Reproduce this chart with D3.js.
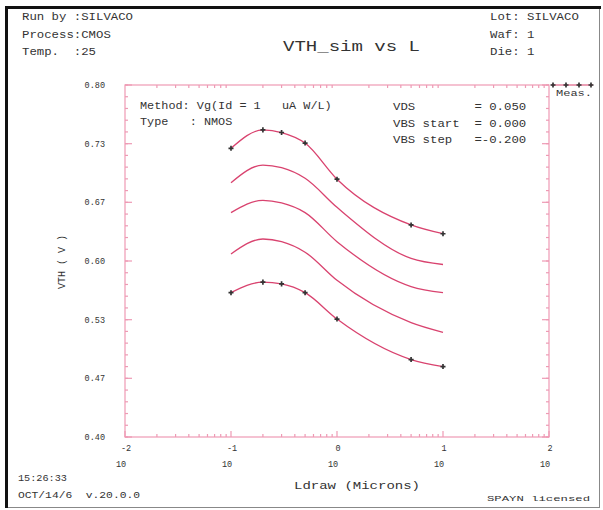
<!DOCTYPE html>
<html>
<head>
<meta charset="utf-8">
<script src="https://cdn.jsdelivr.net/npm/d3@7"></script>
<style>
  body { margin: 0; background: #fff; }
  svg text { white-space: pre; font-family: "Liberation Mono", "DejaVu Sans Mono", monospace; fill: #333; }
</style>
</head>
<body>
<div id="chart"></div>
<script>
// channel length (microns), one point per measured device
var lengths = [0.1, 0.2, 0.3, 0.5, 1, 5, 10];

// simulated VTH, one curve per VBS step (0, -0.2, -0.4, -0.6, -0.8)
var simVth = [
    [0.728, 0.749, 0.746, 0.734, 0.693, 0.641, 0.631],
    [0.689, 0.709, 0.706, 0.694, 0.661, 0.603, 0.596],
    [0.655, 0.669, 0.666, 0.655, 0.622, 0.571, 0.564],
    [0.608, 0.625, 0.622, 0.610, 0.578, 0.530, 0.519],
    [0.564, 0.576, 0.574, 0.564, 0.534, 0.488, 0.480]
];

// measured VTH (only first and last VBS)
var measTop = [0.728, 0.749, 0.746, 0.734, 0.693, 0.641, 0.631];
var measBottom = [0.564, 0.576, 0.574, 0.564, 0.534, 0.488, 0.480];

var yTicks = [0.40, 0.4667, 0.5333, 0.60, 0.6667, 0.7333, 0.80];
var xDecades = [-2, -1, 0, 1, 2];

var headerLeft = ["Run by :SILVACO", "Process:CMOS", "Temp.  :25"];
var headerRight = ["Lot: SILVACO", "Waf: 1", "Die: 1"];
var infoLeft = ["Method: Vg(Id = 1   uA W/L)", "Type   : NMOS"];
var infoRight = ["VDS        = 0.050", "VBS start  = 0.000", "VBS step   =-0.200"];

var pink = "#ee9ab4";
var lineColor = "#d9436f";

var svg = d3.select("#chart")
    .append("svg")
    .attr("width", 603)
    .attr("height", 510)

// page frame
svg.append("rect")
    .attr("x", 6.5).attr("y", 7.5)
    .attr("width", 593).attr("height", 500)
    .attr("fill", "none")
    .attr("stroke", "#888")
    .attr("stroke-width", 1)
svg.append("line").attr("x1", 5).attr("x2", 601).attr("y1", 7.5).attr("y2", 7.5)
    .attr("stroke", "#111").attr("stroke-width", 3)
svg.append("line").attr("x1", 6.5).attr("x2", 6.5).attr("y1", 6).attr("y2", 508)
    .attr("stroke", "#111").attr("stroke-width", 3)

var x = d3.scaleLog().domain([0.01, 100]).range([125, 549]);
var y = d3.scaleLinear().domain([0.4, 0.8]).range([437, 85]);

function monoText(str, px, py, len, size, anchor) {
    return svg.append("text")
        .attr("x", px).attr("y", py)
        .attr("font-size", size)
        .attr("text-anchor", anchor || "start")
        .attr("textLength", len)
        .attr("lengthAdjust", "spacingAndGlyphs")
        .text(str)
}

// header
headerLeft.forEach(function(s, i) { monoText(s, 22, 20 + i * 17.5, s.length * 7.4, 11); });
headerRight.forEach(function(s, i) { monoText(s, 490, 20 + i * 17.5, s.length * 7.4, 11); });
monoText("VTH_sim vs L", 283, 51, 137, 15);

// axes
var minorY = d3.range(31).map(function(i) { return 0.4 + i * 0.4 / 30; });
var minorX = [];
for (var e = -2; e < 2; e++) {
    for (var m = 2; m < 10; m++) minorX.push(m * Math.pow(10, e));
}

var axisG = svg.append("g").attr("stroke", pink).attr("stroke-width", 1.2);

axisG.append("rect")
    .attr("x", 125).attr("y", 85)
    .attr("width", 424).attr("height", 352)
    .attr("fill", "none")

axisG.selectAll(".ym")
    .data(minorY)
    .join("line")
    .attr("x1", 125).attr("x2", 128)
    .attr("y1", d => y(d)).attr("y2", d => y(d))
axisG.selectAll(".yr")
    .data(minorY)
    .join("line")
    .attr("x1", 549).attr("x2", 546)
    .attr("y1", d => y(d)).attr("y2", d => y(d))
axisG.selectAll(".yM")
    .data(yTicks)
    .join("line")
    .attr("x1", 125).attr("x2", 132)
    .attr("y1", d => y(d)).attr("y2", d => y(d))
axisG.selectAll(".yMr")
    .data(yTicks)
    .join("line")
    .attr("x1", 549).attr("x2", 542)
    .attr("y1", d => y(d)).attr("y2", d => y(d))

axisG.selectAll(".xb")
    .data(minorX)
    .join("line")
    .attr("x1", d => x(d)).attr("x2", d => x(d))
    .attr("y1", 437).attr("y2", 434)
axisG.selectAll(".xt")
    .data(minorX)
    .join("line")
    .attr("x1", d => x(d)).attr("x2", d => x(d))
    .attr("y1", 85).attr("y2", 88)
axisG.selectAll(".xM")
    .data(xDecades)
    .join("line")
    .attr("x1", d => x(Math.pow(10, d))).attr("x2", d => x(Math.pow(10, d)))
    .attr("y1", 437).attr("y2", 431)

// y tick labels
svg.selectAll(".ylab")
    .data(yTicks)
    .join("text")
    .attr("x", 105)
    .attr("y", d => y(d) + 3)
    .attr("font-size", 8.5)
    .attr("text-anchor", "end")
    .text(d => d.toFixed(2))

// x tick labels: 10 with exponent above
svg.selectAll(".xexp")
    .data(xDecades)
    .join("text")
    .attr("x", d => x(Math.pow(10, d)) + 1)
    .attr("y", 451)
    .attr("font-size", 8.5)
    .attr("text-anchor", "middle")
    .text(d => d)
svg.selectAll(".xbase")
    .data(xDecades)
    .join("text")
    .attr("x", d => x(Math.pow(10, d)) - 4)
    .attr("y", 467)
    .attr("font-size", 8.5)
    .attr("text-anchor", "middle")
    .text("10")

monoText("Ldraw (Microns)", 294, 489, 126, 11);
svg.append("text")
    .attr("transform", "translate(65,262) rotate(-90)")
    .attr("font-size", 10)
    .attr("text-anchor", "middle")
    .text("VTH ( V )")

// info text inside the plot
infoLeft.forEach(function(s, i) { monoText(s, 140, 109 + i * 16, s.length * 7.1, 10); });
infoRight.forEach(function(s, i) { monoText(s, 393, 110 + i * 16.5, s.length * 7.4, 10); });

// footer
monoText("15:26:33", 18, 481, 49, 9);
monoText("OCT/14/6  v.20.0.0", 18, 498, 122, 9);
monoText("SPAYN licensed", 487, 501, 103, 7.5);

// curves
var line = d3.line()
    .x((d, i) => x(lengths[i]))
    .y(d => y(d))
    .curve(d3.curveMonotoneX)

svg.append("g")
    .selectAll("path")
    .data(simVth)
    .join("path")
    .attr("d", line)
    .attr("fill", "none")
    .attr("stroke", lineColor)
    .attr("stroke-width", 1.3)

var cross = d3.symbol().type(d3.symbolCross).size(14);

svg.append("g")
    .selectAll("path")
    .data(measTop.map((v, i) => [lengths[i], v]).concat(measBottom.map((v, i) => [lengths[i], v])))
    .join("path")
    .attr("d", cross)
    .attr("transform", d => "translate(" + x(d[0]) + "," + y(d[1]) + ")")
    .attr("fill", "#333")

// legend for measured points, outside the plot top right
svg.append("line")
    .attr("x1", 551).attr("x2", 593)
    .attr("y1", 85).attr("y2", 85)
    .attr("stroke", lineColor).attr("stroke-width", 1.2)
svg.append("g")
    .selectAll("path")
    .data([553, 566, 579, 591])
    .join("path")
    .attr("d", cross)
    .attr("transform", d => "translate(" + d + ",85)")
    .attr("fill", "#333")
monoText("Meas.", 556, 96, 36, 9);
</script>
</body>
</html>
